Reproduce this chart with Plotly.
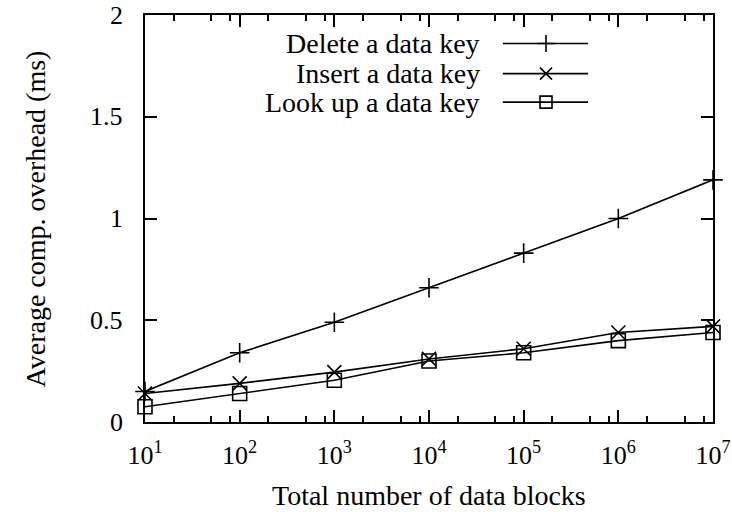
import plotly.graph_objects as go

# ---- data ----
blocks = [1e1, 1e2, 1e3, 1e4, 1e5, 1e6, 1e7]
delete_ms = [0.15, 0.34, 0.49, 0.66, 0.83, 1.00, 1.19]
insert_ms = [0.14, 0.19, 0.245, 0.31, 0.36, 0.44, 0.47]
lookup_ms = [0.075, 0.14, 0.205, 0.30, 0.34, 0.40, 0.44]
series_names = ["Delete a data key", "Insert a data key", "Look up a data key"]
series_values = [delete_ms, insert_ms, lookup_ms]
symbols = ["cross-thin-open", "x-thin-open", "square-open"]
x_tick_vals = [1e1, 1e2, 1e3, 1e4, 1e5, 1e6, 1e7]
x_tick_text = ["10<sup>%d</sup>" % e for e in range(1, 8)]
x_minor_vals = [m * 10 ** e for e in range(1, 7) for m in (2, 5, 8)]
y_tick_vals = [0, 0.5, 1, 1.5, 2]
y_tick_text = ["0", "0.5", "1", "1.5", "2"]
x_title = "Total number of data blocks"
y_title = "Average comp. overhead (ms)"

FONT = "Liberation Serif"
FS = 26
FS_TEXT = 28
BLACK = "black"

fig = go.Figure()
for name, vals, sym in zip(series_names, series_values, symbols):
    fig.add_trace(go.Scatter(
        x=blocks, y=vals, mode="lines+markers", name=name, showlegend=False,
        line=dict(color=BLACK, width=1.6),
        marker=dict(symbol=sym, size=14, color=BLACK, line=dict(color=BLACK, width=1.6)),
        cliponaxis=False,
    ))

# custom gnuplot-style key (text right, sample on the right)
key_y = [0.93, 0.856, 0.786]
key_text_x = 0.594
key_line = [0.630, 0.780]
key_mark = 0.706
for name, sym, yk in zip(series_names, symbols, key_y):
    fig.add_trace(go.Scatter(
        x=key_line, y=[yk, yk], xaxis="x2", yaxis="y2", mode="lines",
        line=dict(color=BLACK, width=1.6), showlegend=False, hoverinfo="skip"))
    fig.add_trace(go.Scatter(
        x=[key_mark], y=[yk], xaxis="x2", yaxis="y2", mode="markers",
        marker=dict(symbol=sym, size=12, color=BLACK, line=dict(color=BLACK, width=1.6)),
        showlegend=False, hoverinfo="skip"))
    fig.add_annotation(x=key_text_x, y=yk, xref="paper", yref="paper", text=name,
                       showarrow=False, xanchor="right", yanchor="middle",
                       font=dict(family=FONT, size=FS_TEXT, color=BLACK))

# y tick labels placed gnuplot-style, a little away from the axis
for v, t in zip(y_tick_vals, y_tick_text):
    fig.add_annotation(x=-0.035, y=v, xref="paper", yref="y", text=t,
                       showarrow=False, xanchor="right", yanchor="middle",
                       font=dict(family=FONT, size=FS, color=BLACK))

fig.add_annotation(x=0.5, y=-0.18, xref="paper", yref="paper", text=x_title,
                   showarrow=False, xanchor="center", yanchor="middle",
                   font=dict(family=FONT, size=FS_TEXT, color=BLACK))
fig.add_annotation(x=-0.192, y=0.5, xref="paper", yref="paper", text=y_title,
                   showarrow=False, xanchor="center", yanchor="middle", textangle=-90,
                   font=dict(family=FONT, size=FS_TEXT, color=BLACK))

axis_common = dict(showline=True, linecolor=BLACK, linewidth=1.6, mirror="ticks",
                   ticks="inside", tickcolor=BLACK, tickwidth=1.6, showgrid=False,
                   zeroline=False, automargin=False,
                   tickfont=dict(family=FONT, size=FS, color=BLACK))

fig.update_layout(
    width=732, height=512,
    margin=dict(l=145, r=19, t=15, b=90),
    paper_bgcolor="white", plot_bgcolor="white",
    font=dict(family=FONT, size=FS, color=BLACK),
    xaxis=dict(type="log", range=[1, 7], tickmode="array", tickvals=x_tick_vals,
               ticktext=x_tick_text, ticklen=12, ticklabelstandoff=9,
               minor=dict(tickmode="array", tickvals=x_minor_vals, ticklen=6,
                          ticks="inside", tickcolor=BLACK, tickwidth=1.6),
               **axis_common),
    yaxis=dict(range=[0, 2], tickmode="array", tickvals=y_tick_vals, ticklen=12,
               showticklabels=False, **axis_common),
    xaxis2=dict(overlaying="x", range=[0, 1], visible=False),
    yaxis2=dict(overlaying="y", range=[0, 1], visible=False),
)

fig.write_html("out.html")
